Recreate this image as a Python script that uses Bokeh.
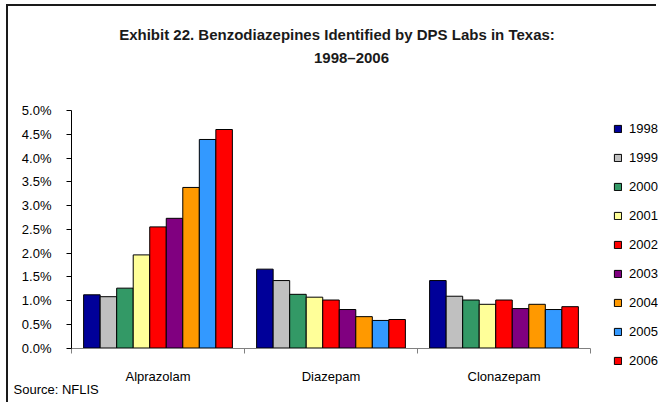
from bokeh.plotting import figure
from bokeh.models import (ColumnDataSource, Range1d, FixedTicker, NumeralTickFormatter,
                          LinearAxis, Legend, LegendItem, Label, InlineStyleSheet)
from bokeh.embed import file_html
from bokeh.resources import INLINE

# ---- data (percent of all identified items) ----
categories = ["Alprazolam", "Diazepam", "Clonazepam"]
years = ["1998", "1999", "2000", "2001", "2002", "2003", "2004", "2005", "2006"]
alprazolam = [1.12, 1.08, 1.26, 1.96, 2.55, 2.73, 3.38, 4.39, 4.60]
diazepam = [1.66, 1.42, 1.13, 1.07, 1.01, 0.81, 0.66, 0.58, 0.60]
clonazepam = [1.42, 1.09, 1.01, 0.92, 1.01, 0.83, 0.92, 0.81, 0.87]
y_ticks = [0.0, 0.5, 1.0, 1.5, 2.0, 2.5, 3.0, 3.5, 4.0, 4.5, 5.0]

title_line1 = "Exhibit 22. Benzodiazepines Identified by DPS Labs in Texas:"
title_line2 = "1998\u20132006"
source_text = "Source: NFLIS"

colors = ["#000099", "#C0C0C0", "#339966", "#FFFF99", "#FF0000",
          "#800080", "#FF9900", "#3399FF", "#FF0000"]

FONT = "Liberation Sans"
series = [alprazolam, diazepam, clonazepam]
n_years = len(years)
n_cat = len(categories)
group_width = 0.86
bar_w = group_width / n_years
y_max = y_ticks[-1] / 100

# ---- layout geometry (page pixels) ----
W, H = 650, 398
CANVAS_LEFT, CANVAS_TOP = 8, 6           # after margin + 2px border
AX_LEFT, AX_RIGHT = 71, 590              # category axis extent
AX_BOTTOM, AX_TOP = 347.5, 110           # 0% and 5% positions
ppx = (AX_RIGHT - AX_LEFT) / n_cat
ppy = (AX_BOTTOM - AX_TOP) / y_max

def X(px):
    return (px - AX_LEFT) / ppx

def Y(py):
    return (AX_BOTTOM - py) / ppy

border_css = InlineStyleSheet(css=":host { border-top: 2px solid #1a1a1a; border-left: 2px solid #1a1a1a; }")

p = figure(width=W, height=H, output_backend="svg", toolbar_location=None,
           x_range=Range1d(X(CANVAS_LEFT), X(CANVAS_LEFT + W)),
           y_range=Range1d(Y(CANVAS_TOP + H), Y(CANVAS_TOP)),
           x_axis_type=None, y_axis_type=None, min_border=0,
           margin=(4, 0, 0, 6), stylesheets=[border_css])
p.outline_line_color = None
p.xgrid.visible = False
p.ygrid.visible = False
p.background_fill_color = "white"
p.border_fill_color = "white"

renderers = []
for j, yr in enumerate(years):
    xs = [i + 0.5 + (j - (n_years - 1) / 2) * bar_w for i in range(n_cat)]
    tops = [s[j] / 100 for s in series]
    src = ColumnDataSource(data=dict(x=xs, top=tops))
    r = p.vbar(x="x", top="top", bottom=0, width=bar_w, source=src,
               fill_color=colors[j], line_color="black", line_width=1)
    renderers.append(r)

# y axis drawn at x = 0
yaxis = LinearAxis(ticker=FixedTicker(ticks=[t / 100 for t in y_ticks]),
                   formatter=NumeralTickFormatter(format="0.0%"),
                   fixed_location=0, bounds=(0, y_max),
                   major_tick_out=5, major_tick_in=0, minor_tick_line_color=None,
                   axis_line_color="#000000", major_tick_line_color="#000000",
                   major_label_standoff=15, major_label_text_font=FONT,
                   major_label_text_font_size="13px", major_label_text_color="#000000")
p.add_layout(yaxis, "left")

# x axis drawn at y = 0: labels at category centres, tick marks at boundaries
xaxis = LinearAxis(ticker=FixedTicker(ticks=[i + 0.5 for i in range(n_cat)],
                                      minor_ticks=list(range(n_cat + 1))),
                   major_label_overrides={i + 0.5: c for i, c in enumerate(categories)},
                   fixed_location=0, bounds=(0, n_cat),
                   major_tick_line_color=None, major_tick_out=0, major_tick_in=0,
                   minor_tick_out=5, minor_tick_in=0, minor_tick_line_color="#808080",
                   axis_line_color="#808080", major_label_standoff=16,
                   major_label_text_font=FONT, major_label_text_font_size="13px",
                   major_label_text_color="#000000")
p.add_layout(xaxis, "below")

# titles and source note
p.add_layout(Label(x=X(336.5), y=Y(34), text=title_line1, text_align="center",
                   text_baseline="middle", text_font=FONT, text_font_size="15px",
                   text_font_style="bold", text_color="#1a1a1a"))
p.add_layout(Label(x=X(351), y=Y(57), text=title_line2, text_align="center",
                   text_baseline="middle", text_font=FONT, text_font_size="15px",
                   text_font_style="bold", text_color="#1a1a1a"))
p.add_layout(Label(x=X(13), y=Y(388.5), text=source_text, text_align="left",
                   text_baseline="middle", text_font=FONT, text_font_size="13px",
                   text_color="#000000"))

legend = Legend(items=[LegendItem(label=yr, renderers=[renderers[j]]) for j, yr in enumerate(years)],
                location=(605, 36), padding=0, margin=0, spacing=14,
                glyph_width=9, glyph_height=9, label_height=15, label_standoff=7,
                label_text_font=FONT, label_text_font_size="13px",
                label_text_color="#000000",
                border_line_color=None, background_fill_alpha=0)
p.add_layout(legend)

open("out.html", "w").write(file_html(p, INLINE))
